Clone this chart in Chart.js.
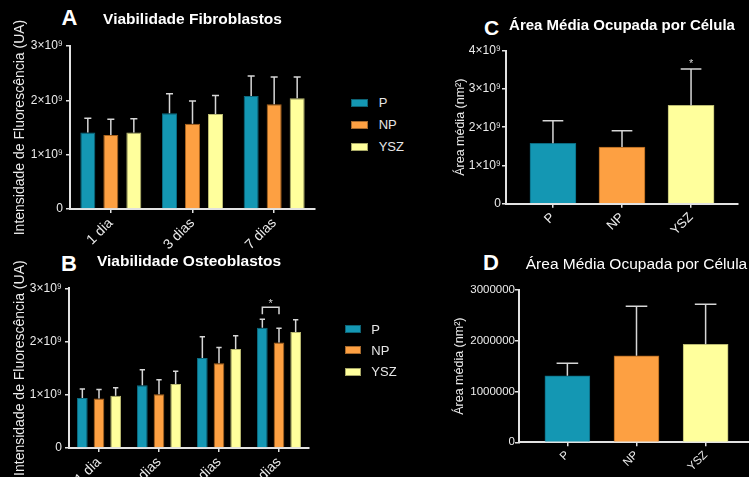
<!DOCTYPE html>
<html>
<head>
<meta charset="utf-8">
<script src="https://cdn.jsdelivr.net/npm/chart.js@4.4.1/dist/chart.umd.min.js"></script>
<style>
  html, body { margin: 0; padding: 0; background: #000; width: 749px; height: 477px; overflow: hidden; }
  body { position: relative; font-family: "Liberation Sans", Arial, sans-serif; }
  canvas { position: absolute; }
  .letter { position: absolute; color: #fff; font-weight: bold; line-height: 1; }
  .key { position: absolute; }
  .key i { position: absolute; box-sizing: border-box; border: 1px solid rgba(0,0,0,0.35); }
  .key span { position: absolute; color: #e6e6e6; font-size: 13px; line-height: 13px; white-space: nowrap; }
</style>
</head>
<body>
<div class="letter" style="left:61.5px;top:7px;font-size:22px">A</div>
<div class="letter" style="left:61px;top:253px;font-size:22px">B</div>
<div class="letter" style="left:484px;top:16.5px;font-size:21px">C</div>
<div class="letter" style="left:483px;top:252px;font-size:22px">D</div>

<canvas id="chartA" width="340" height="260" style="left:0;top:0"></canvas>
<canvas id="chartB" width="340" height="260" style="left:0;top:240px"></canvas>
<canvas id="chartC" width="309" height="240" style="left:440px;top:0"></canvas>
<canvas id="chartD" width="330" height="240" style="left:440px;top:240px"></canvas>

<div class="key" id="keyA" style="left:351px;top:98.7px"></div>
<div class="key" id="keyB" style="left:345px;top:325px"></div>

<script>
// series
const series = ['P', 'NP', 'YSZ'];
const fills = ['#1497b3', '#fda042', '#ffff9c'];
const edges = ['#0b6a80', '#a8621c', '#b8b870'];

// A - fibroblastos
const diasA = ['1 dia', '3 dias', '7 dias'];
const fibroP = [1.41e9, 1.76e9, 2.08e9];
const fibroNP = [1.36e9, 1.57e9, 1.93e9];
const fibroYSZ = [1.41e9, 1.75e9, 2.04e9];
const fibroPsd = [0.26e9, 0.36e9, 0.37e9];
const fibroNPsd = [0.29e9, 0.42e9, 0.50e9];
const fibroYSZsd = [0.25e9, 0.34e9, 0.39e9];

// B - osteoblastos
const diasB = ['1 dia', '3 dias', '7 dias', '14 dias'];
const osteoP = [0.94e9, 1.18e9, 1.69e9, 2.26e9];
const osteoNP = [0.93e9, 1.01e9, 1.59e9, 1.98e9];
const osteoYSZ = [0.98e9, 1.20e9, 1.86e9, 2.18e9];
const osteoPsd = [0.17e9, 0.29e9, 0.40e9, 0.16e9];
const osteoNPsd = [0.17e9, 0.27e9, 0.30e9, 0.27e9];
const osteoYSZsd = [0.15e9, 0.24e9, 0.25e9, 0.23e9];

// C, D - area media
const areaC = [1.58e9, 1.48e9, 2.57e9];
const areaCsd = [0.59e9, 0.43e9, 0.95e9];
const areaD = [1.31e6, 1.705e6, 1.93e6];
const areaDsd = [0.245e6, 0.975e6, 0.79e6];

// tick labels
const ticksAB = ['0', '1×10⁹', '2×10⁹', '3×10⁹'];
const ticksC = ['0', '1×10⁹', '2×10⁹', '3×10⁹', '4×10⁹'];
const ticksD = ['0', '1000000', '2000000', '3000000'];

const axisColor = '#e2e2e2';
const textColor = '#ececec';
Chart.defaults.font.family = '"Liberation Sans", Arial, Helvetica, sans-serif';
Chart.defaults.color = textColor;

// one-sided error bars + significance marks
const errorBars = {
  id: 'errorBars',
  afterDatasetsDraw(chart, args, opts) {
    const ctx = chart.ctx;
    const ys = chart.scales.y;
    const tops = [];
    ctx.save();
    ctx.strokeStyle = opts.color;
    ctx.lineWidth = opts.width;
    chart.data.datasets.forEach((ds, i) => {
      tops[i] = [];
      chart.getDatasetMeta(i).data.forEach((bar, j) => {
        const d = ds.data[j];
        const v = typeof d === 'object' ? d.y : d;
        const top = ys.getPixelForValue(v + ds.sd[j]);
        tops[i][j] = top;
        const half = bar.width * opts.cap / 2;
        ctx.beginPath();
        ctx.moveTo(bar.x, bar.y);
        ctx.lineTo(bar.x, top);
        ctx.moveTo(bar.x - half, top);
        ctx.lineTo(bar.x + half, top);
        ctx.stroke();
      });
    });
    ctx.fillStyle = opts.color;
    ctx.font = '11px "Liberation Sans", Arial, sans-serif';
    ctx.textAlign = 'center';
    ctx.textBaseline = 'alphabetic';
    (opts.marks || []).forEach(m => {
      if (m.to !== undefined) {
        const x1 = chart.getDatasetMeta(m.from).data[m.index].x;
        const x2 = chart.getDatasetMeta(m.to).data[m.index].x;
        const t = Math.min(tops[m.from][m.index], tops[m.to][m.index]);
        ctx.beginPath();
        ctx.moveTo(x1, t - 5);
        ctx.lineTo(x1, t - 12);
        ctx.lineTo(x2, t - 12);
        ctx.lineTo(x2, t - 5);
        ctx.stroke();
        ctx.fillText('*', (x1 + x2) / 2, t - 12);
      } else {
        const x = chart.getDatasetMeta(m.dataset).data[m.index].x;
        ctx.fillText('*', x, tops[m.dataset][m.index] - 2);
      }
    });
    ctx.restore();
  }
};

function ds(i, data, sd) {
  return {
    label: series[i], data: data, sd: sd,
    backgroundColor: fills[i], borderColor: edges[i], borderWidth: 1
  };
}

function yAxis(max, labels, title, width, tickFont, titleFont, titlePad, tickPad) {
  return {
    min: 0, max: max,
    ticks: { stepSize: max / (labels.length - 1), callback: (v, i) => labels[i], color: textColor, font: { size: tickFont }, padding: tickPad },
    grid: { display: true, drawOnChartArea: false, drawTicks: true, tickLength: 4, color: axisColor, lineWidth: 1.5 },
    border: { display: true, color: axisColor, width: 2 },
    title: { display: true, text: title, color: textColor, font: { size: titleFont }, padding: { top: titlePad, bottom: 0 } },
    afterFit: s => { s.width = width; }
  };
}

function xGrid() {
  return { display: true, drawOnChartArea: false, drawTicks: true, offset: false, tickLength: 4, color: axisColor, lineWidth: 1.5 };
}

function title(text, size, weight, top, bottom) {
  return { display: true, text: text, fullSize: false, color: '#fff', font: { size: size, weight: weight }, padding: { top: top, bottom: bottom } };
}

const common = { responsive: false, animation: false, events: [] };

// A
new Chart(document.getElementById('chartA'), {
  type: 'bar',
  data: {
    labels: diasA,
    datasets: [ds(0, fibroP, fibroPsd), ds(1, fibroNP, fibroNPsd), ds(2, fibroYSZ, fibroYSZsd)]
  },
  options: Object.assign({}, common, {
    layout: { padding: { left: 0, right: 25, top: 0, bottom: 0 } },
    datasets: { bar: { categoryPercentage: 0.845, barPercentage: 0.652 } },
    plugins: {
      legend: { display: false }, tooltip: { enabled: false },
      title: title('Viabilidade Fibroblastos', 15.5, 'bold', 10.4, 17),
      errorBars: { color: '#d6d6d6', width: 1.5, cap: 0.47, marks: [] }
    },
    scales: {
      x: { grid: xGrid(), border: { color: axisColor, width: 2 },
           ticks: { color: textColor, font: { size: 14 }, minRotation: 45, maxRotation: 45, padding: 2 },
           afterFit: s => { s.height = 51; } },
      y: yAxis(3e9, ticksAB, 'Intensidade de Fluorescência (UA)', 70, 12, 14, 11.6, 3)
    }
  }),
  plugins: [errorBars]
});

// B
new Chart(document.getElementById('chartB'), {
  type: 'bar',
  data: {
    labels: diasB,
    datasets: [ds(0, osteoP, osteoPsd), ds(1, osteoNP, osteoNPsd), ds(2, osteoYSZ, osteoYSZsd)]
  },
  options: Object.assign({}, common, {
    layout: { padding: { left: 0, right: 31, top: 0, bottom: 0 } },
    datasets: { bar: { categoryPercentage: 0.833, barPercentage: 0.64 } },
    plugins: {
      legend: { display: false }, tooltip: { enabled: false },
      title: title('Viabilidade Osteoblastos', 15.5, 'bold', 12.7, 17),
      errorBars: { color: '#d6d6d6', width: 1.5, cap: 0.5, marks: [{ index: 3, from: 0, to: 1 }] }
    },
    scales: {
      x: { grid: xGrid(), border: { color: axisColor, width: 2 },
           ticks: { color: textColor, font: { size: 14 }, minRotation: 45, maxRotation: 45, padding: 2 },
           afterFit: s => { s.height = 52; } },
      y: yAxis(3e9, ticksAB, 'Intensidade de Fluorescência (UA)', 69, 12, 14, 11.6, 3)
    }
  }),
  plugins: [errorBars]
});

// C
new Chart(document.getElementById('chartC'), {
  type: 'bar',
  data: {
    datasets: [{
      label: 'Área média', data: series.map((s, i) => ({ x: i, y: areaC[i] })), sd: areaCsd,
      backgroundColor: fills, borderColor: edges, borderWidth: 1, barThickness: 46
    }]
  },
  options: Object.assign({}, common, {
    layout: { padding: { left: 0, right: 11, top: 0, bottom: 0 } },
    plugins: {
      legend: { display: false }, tooltip: { enabled: false },
      title: title('Área Média Ocupada por Célula', 15, 'bold', 16.7, 16),
      errorBars: { color: '#d6d6d6', width: 1.5, cap: 0.45, marks: [{ index: 2, dataset: 0 }] }
    },
    scales: {
      x: { type: 'linear', offset: false, min: -0.68, max: 2.68, grid: xGrid(), border: { color: axisColor, width: 2 },
           ticks: { stepSize: 1, includeBounds: false, callback: v => series[v], color: textColor, font: { size: 13 }, minRotation: 45, maxRotation: 45, padding: 2 },
           afterFit: s => { s.height = 36.3; } },
      y: yAxis(4e9, ticksC, 'Área média (nm²)', 66, 12, 12.5, 13.2, 1)
    }
  }),
  plugins: [errorBars]
});

// D
new Chart(document.getElementById('chartD'), {
  type: 'bar',
  data: {
    datasets: [{
      label: 'Área média', data: series.map((s, i) => ({ x: i, y: areaD[i] })), sd: areaDsd,
      backgroundColor: fills, borderColor: edges, borderWidth: 1, barThickness: 45
    }]
  },
  options: Object.assign({}, common, {
    layout: { padding: { left: 0, right: 16, top: 0, bottom: 0 } },
    plugins: {
      legend: { display: false }, tooltip: { enabled: false },
      title: title('Área Média Ocupada por Célula', 15.5, 'normal', 15, 16.4),
      errorBars: { color: '#d6d6d6', width: 1.5, cap: 0.48, marks: [] }
    },
    scales: {
      x: { type: 'linear', offset: false, min: -0.7, max: 2.7, grid: xGrid(), border: { color: axisColor, width: 2 },
           ticks: { stepSize: 1, includeBounds: false, callback: v => series[v], color: textColor, font: { size: 11.5 }, minRotation: 45, maxRotation: 45, padding: 2 },
           afterFit: s => { s.height = 37.7; } },
      y: yAxis(3e6, ticksD, 'Área média (nm²)', 79, 11.5, 12.5, 12.2, 0)
    }
  }),
  plugins: [errorBars]
});

// legends for A and B
function buildKey(id, box, step) {
  const el = document.getElementById(id);
  series.forEach((name, i) => {
    const sw = document.createElement('i');
    sw.style.cssText = `left:0;top:${i * step}px;width:${box[0]}px;height:${box[1]}px;background:${fills[i]}`;
    const tx = document.createElement('span');
    tx.textContent = name;
    tx.style.cssText = `left:${box[2]}px;top:${i * step + box[1] / 2 - 6.5}px`;
    el.appendChild(sw);
    el.appendChild(tx);
  });
}
buildKey('keyA', [17, 8.5, 27.7], 22);
buildKey('keyB', [16, 8, 26.3], 21.4);
</script>
</body>
</html>
